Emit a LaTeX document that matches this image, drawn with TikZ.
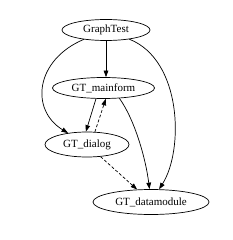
\documentclass[tikz,border=0pt]{standalone}
\usepackage{fontspec}
\setmainfont{Liberation Serif}
\usetikzlibrary{shapes.geometric,arrows.meta}
\begin{document}
\begin{tikzpicture}[x=1pt,y=-1pt,
  nd/.style={draw,ellipse,inner sep=0pt,font=\fontsize{11}{13}\selectfont,line width=0.7pt},
  edge/.style={line width=0.7pt,-{Triangle[length=6.5pt,width=4.6pt]}},
  dsh/.style={dash pattern=on 3pt off 2pt}]
\useasboundingbox (0,0) rectangle (232,240);
\node[nd,minimum width=88pt,minimum height=21pt] (gt) at (106,30) {GraphTest};
\node[nd,minimum width=102pt,minimum height=21pt] (mf) at (103.5,88) {GT\_mainform};
\node[nd,minimum width=84pt,minimum height=25pt] (dlg) at (87,144.5) {GT\_dialog};
\node[nd,minimum width=116pt,minimum height=25pt] (dm) at (151,202) {GT\_datamodule};
\draw[edge] (gt.south) -- (mf.north -| gt.south);
\draw[edge] (gt) .. controls (35,60) and (30,110) .. (dlg);
\draw[edge] (gt) .. controls (182,60) and (184,150) .. (dm);
\draw[edge] (mf.235) -- (dlg.95);
\draw[edge,dsh] (dlg.58) -- (mf.282);
\draw[edge] (mf.-33) .. controls (135,120) and (146,160) .. (dm);
\draw[edge,dsh] (dlg) -- (dm);
\end{tikzpicture}
\end{document}
